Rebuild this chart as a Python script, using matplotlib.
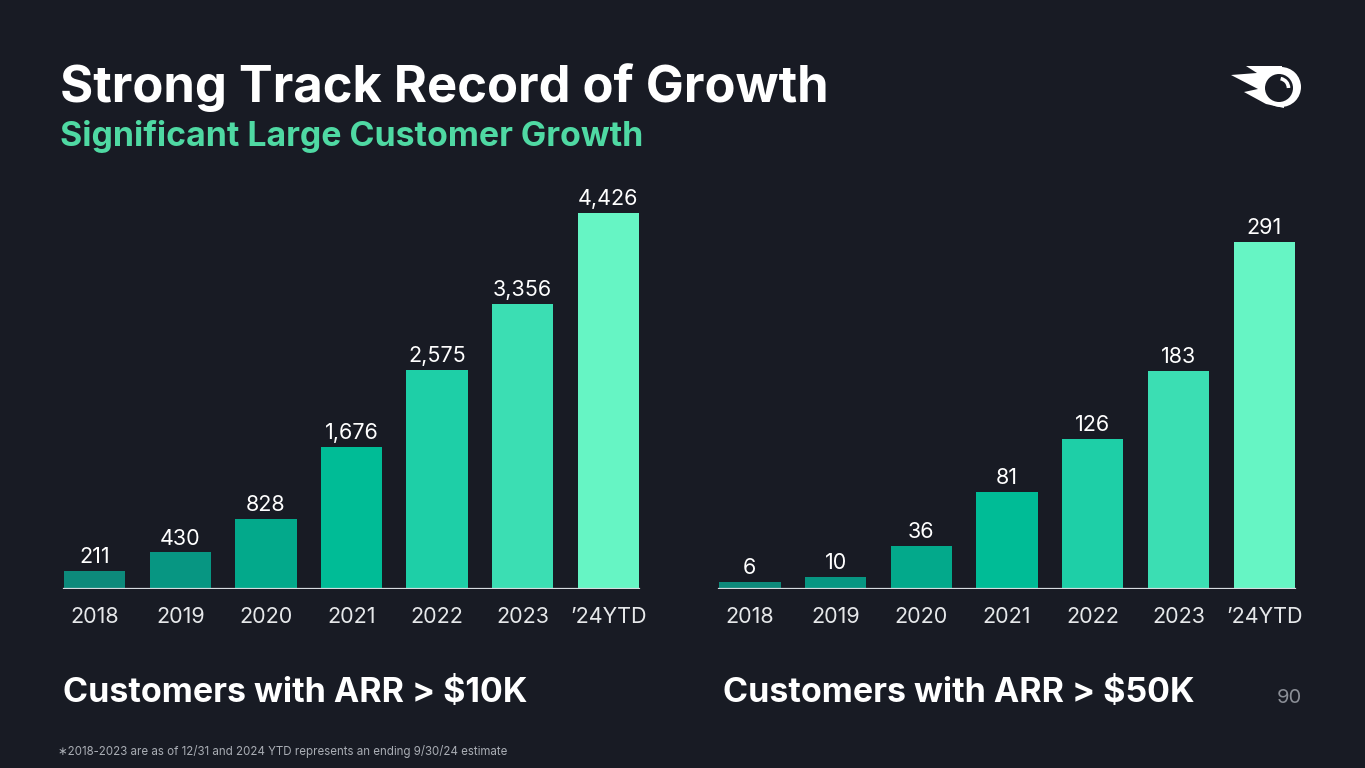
import matplotlib
matplotlib.use("Agg")
import matplotlib.pyplot as plt
from matplotlib.patches import Circle, Polygon, Arc

plt.rcParams["font.family"] = ["Inter", "DejaVu Sans"]

BG = "#181b24"
years = ["2018", "2019", "2020", "2021", "2022", "2023", "\u201924YTD"]
arr_10k = [211, 430, 828, 1676, 2575, 3356, 4426]
arr_50k = [6, 10, 36, 81, 126, 183, 291]
bar_colors = ["#0d8a7b", "#079682", "#03a98b", "#00bc96", "#1ecfa7", "#3bdeb3", "#66f5c4"]

W, H = 1365, 768
fig = plt.figure(figsize=(W / 100, H / 100), dpi=100, facecolor=BG)


def px_axes(x0, y0, x1, y1):
    # pixel box (top-left origin) -> figure fraction axes
    return fig.add_axes([x0 / W, 1 - y1 / H, (x1 - x0) / W, (y1 - y0) / H])


def draw_panel(ax, values, ytop, fmt):
    ax.set_facecolor(BG)
    xs = range(len(values))
    ax.bar(xs, values, width=0.715, color=bar_colors, zorder=2)
    ax.set_xlim(-0.5, len(values) - 0.5)
    ax.set_ylim(0, ytop)
    ax.axhline(0, xmin=0.02, xmax=0.98, color="#d6dbe0", lw=1.6, zorder=3)
    for x, v in zip(xs, values):
        ax.text(x, v + ytop * 0.009, fmt(v), ha="center", va="bottom",
                color="white", fontsize=15.5)
    ax.set_xticks(list(xs))
    ax.set_xticklabels(years, color="#e6e8ea", fontsize=15.5)
    ax.tick_params(axis="x", length=0, pad=13)
    ax.set_yticks([])
    for s in ax.spines.values():
        s.set_visible(False)


ax1 = px_axes(52, 150, 651, 589)
draw_panel(ax1, arr_10k, 4426 * 439 / 376, lambda v: f"{v:,}")
ax2 = px_axes(707, 150, 1307, 589)
draw_panel(ax2, arr_50k, 291 * 439 / 347, lambda v: f"{v:,}")

# text overlay in pixel coordinates
ov = fig.add_axes([0, 0, 1, 1])
ov.set_xlim(0, W)
ov.set_ylim(H, 0)
ov.axis("off")
ov.patch.set_alpha(0)

ov.text(60, 102, "Strong Track Record of Growth", color="white", fontsize=36.5,
        fontweight="bold", va="baseline")
ov.text(60, 146, "Significant Large Customer Growth", color="#4fd9a3", fontsize=24.4,
        fontweight="bold", va="baseline")
ov.text(63, 702, "Customers with ARR > $10K", color="white", fontsize=24.5,
        fontweight="bold", va="baseline")
ov.text(723, 702, "Customers with ARR > $50K", color="white", fontsize=24.5,
        fontweight="bold", va="baseline")
ov.text(1302, 703, "90", color="#8a8e96", fontsize=14.5, ha="right", va="baseline")
ov.text(58, 755, "\u22172018-2023 are as of 12/31 and 2024 YTD represents an ending 9/30/24 estimate",
        color="#a9adb4", fontsize=8.3, va="baseline")

# logo
flame = Polygon([(1246, 66), (1282, 66), (1284, 108), (1266, 104), (1244, 92),
                 (1258, 89), (1231, 75), (1257, 73)], closed=True, color="white", lw=0)
ov.add_patch(flame)
ov.add_patch(Circle((1281, 87), 20, color="white", lw=0))
ov.add_patch(Circle((1279, 88), 14, color=BG, lw=0))
ov.add_patch(Arc((1279, 88), 19, 19, theta1=-80, theta2=0, color="white", lw=2.6))

fig.savefig("out.png", dpi=100, facecolor=BG)
